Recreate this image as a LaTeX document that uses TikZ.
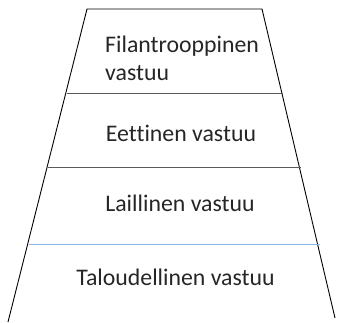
\documentclass[tikz,border=0pt]{standalone}
\usepackage{fontspec}
\setmainfont[Ligatures=NoCommon]{Carlito}
\definecolor{txtgray}{HTML}{262626}
\definecolor{divgray}{HTML}{595959}
\definecolor{divblue}{HTML}{8EB4E3}
\tikzset{
  label/.style={font=\fontsize{23.8}{28.5}\selectfont, text=txtgray, inner sep=0pt},
  side/.style={draw=black, line width=0.9pt},
  divider/.style={draw=divgray, line width=0.5pt},
  bluediv/.style={draw=divblue, line width=0.7pt}
}
\begin{document}
\begin{tikzpicture}[x=1pt,y=1pt]
\useasboundingbox (0,0) rectangle (337,323);
% corners (y measured upward)
\coordinate (tl) at (87,314);
\coordinate (tr) at (262,314);
\coordinate (bl) at (8,1);
\coordinate (br) at (335,5);
\draw[side] (bl) -- (tl) -- (tr) -- (br);
% dividers
\coordinate (d1l) at (66.5,230);
\coordinate (d1r) at (282.5,230);
\coordinate (d2l) at (47.5,156);
\coordinate (d2r) at (301,156);
\coordinate (d3l) at (28.5,79);
\coordinate (d3r) at (319.5,79);
\draw[divider] (d1l) -- (d1r);
\draw[divider] (d2l) -- (d2r);
\draw[bluediv] (d3l) -- (d3r);
% labels
\node[label, anchor=base west, align=left] (fil) at (105,242) {Filantrooppinen\\vastuu};
\node[label, anchor=base] (eet) at (181,181) {Eettinen vastuu};
\node[label, anchor=base] (lai) at (180,111) {Laillinen vastuu};
\node[label, anchor=base] (tal) at (175.5,37) {Taloudellinen vastuu};
\end{tikzpicture}
\end{document}
